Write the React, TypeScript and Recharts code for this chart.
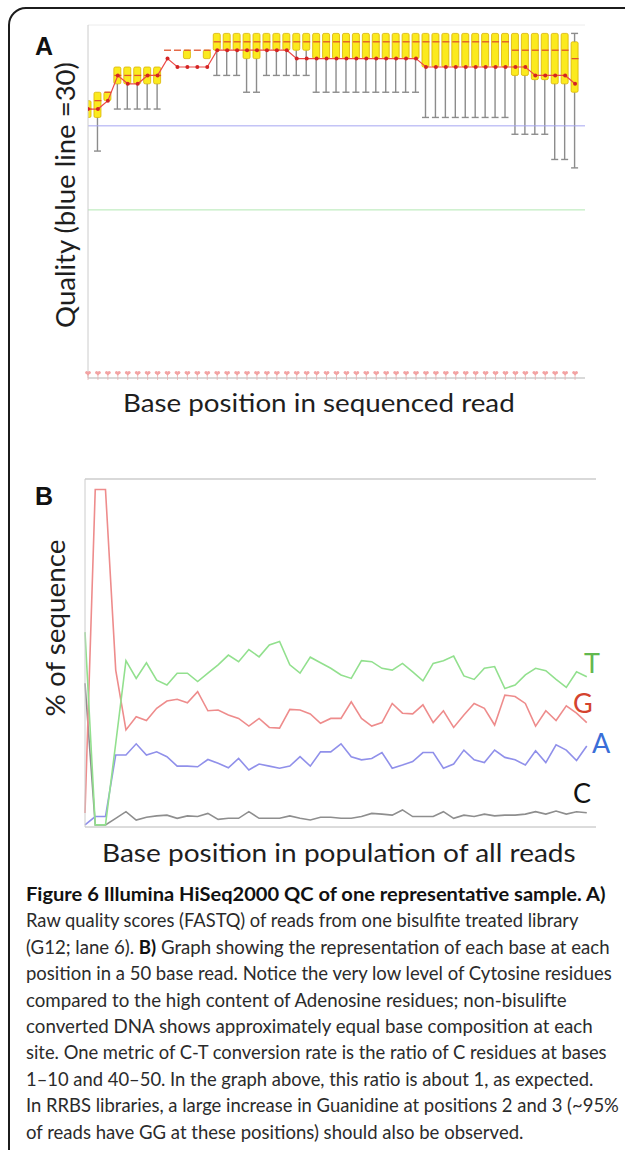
import React, { useLayoutEffect, useRef, useState } from 'react';
import {
  ComposedChart,
  LineChart,
  Line,
  Bar,
  XAxis,
  YAxis,
  CartesianGrid,
  ReferenceLine,
} from 'recharts';

// base positions 1..50 of the read
const positions = [
  1, 2, 3, 4, 5, 6, 7, 8, 9, 10, 11, 12, 13, 14, 15, 16, 17, 18, 19, 20, 21, 22, 23, 24, 25,
  26, 27, 28, 29, 30, 31, 32, 33, 34, 35, 36, 37, 38, 39, 40, 41, 42, 43, 44, 45, 46, 47, 48, 49, 50,
];

// panel A: quality box plot per position
const lowWhisker = [
  31, 27, 33, 32, 32, 32, 32, 32, 39, 39, 38, 39, 38, 36, 36, 36, 34, 34, 36, 36, 36, 36, 36, 34, 34,
  34, 34, 34, 34, 34, 34, 34, 34, 34, 31, 31, 31, 31, 31, 31, 31, 31, 31, 29, 29, 29, 29, 26, 26, 25,
];
const q1 = [
  31, 31, 33, 35, 35, 35, 35, 35, 39, 39, 38, 39, 38, 39, 39, 39, 38, 38, 39, 39, 39, 39, 39, 38, 38,
  38, 38, 38, 38, 38, 38, 38, 38, 38, 37, 37, 37, 37, 37, 37, 37, 37, 37, 36, 36, 35.5, 35.5, 35, 35, 34,
];
const median = [
  32, 33, 34, 36, 36, 36, 36, 36, 39, 39, 39, 39, 39, 40, 40, 40, 40, 40, 40, 40, 40, 40, 40, 40, 40,
  40, 40, 40, 40, 40, 40, 40, 40, 40, 40, 40, 40, 40, 40, 40, 40, 40, 40, 39, 39, 39, 39, 39, 39, 38,
];
const q3 = [
  33, 34, 34, 37, 37, 37, 37, 37, 39, 39, 39, 39, 39, 41, 41, 41, 41, 41, 41, 41, 41, 41, 41, 41, 41,
  41, 41, 41, 41, 41, 41, 41, 41, 41, 41, 41, 41, 41, 41, 41, 41, 41, 41, 41, 41, 41, 41, 41, 41, 40,
];
const highWhisker = [
  33, 34, 34, 37, 37, 37, 37, 37, 39, 39, 39, 39, 39, 41, 41, 41, 41, 41, 41, 41, 41, 41, 41, 41, 41,
  41, 41, 41, 41, 41, 41, 41, 41, 41, 41, 41, 41, 41, 41, 41, 41, 41, 41, 41, 41, 41, 41, 41, 41, 41,
];
const meanQuality = [
  32, 32, 33, 36, 35, 35, 36, 36, 38, 37, 37, 37, 37, 39, 39, 39, 39, 39, 39, 39, 39, 38, 38, 38, 38,
  38, 38, 38, 38, 38, 38, 38, 38, 38, 37, 37, 37, 37, 37, 37, 37, 37, 37, 37, 37, 36, 36, 36, 36, 35,
];
const qualityTicks = [0, 2, 4, 6, 8, 10, 12, 14, 16, 18, 20, 22, 24, 26, 28, 30, 32, 34, 36, 38, 40, 42];

// panel B: % of each base per position
const pctT = [
  56, 0.6, 0.6, 24, 47.8, 42.7, 47.2, 42.2, 40.8, 44.2, 44.2, 41.8, 44.2, 46.6, 49.4, 47.5, 51, 48.9,
  52.3, 53.3, 46.6, 44.2, 48.8, 47.2, 45.6, 43.7, 42.7, 47.8, 47.5, 45.6, 45.1, 47, 44.6, 42, 47, 47.8,
  49.1, 43.4, 42.4, 45.6, 46.1, 39.8, 40.8, 43.7, 45.6, 44.9, 42.4, 40.1, 44.6, 43.2,
];
const pctG = [
  4, 97, 97, 45.1, 27.9, 31.7, 30.6, 34.1, 36.2, 36.7, 35.7, 38.9, 33.4, 33.6, 32.2, 31.2, 29, 31.2,
  28.6, 28.4, 33.8, 33.6, 32.5, 29.8, 31.2, 31.2, 36, 31.2, 29, 30, 35.5, 32.7, 32.5, 35.1, 30, 33.4,
  28.6, 32.2, 35.5, 34.1, 29.3, 37.9, 37.5, 35.5, 29, 33.4, 30.6, 34.8, 32.7, 30,
];
const pctA = [
  0.6, 3, 3, 20.7, 20.7, 23.9, 20.7, 21.6, 20.2, 17.5, 17.5, 17.3, 19.4, 18.3, 17, 19.7, 16.4, 18.1,
  17.5, 16.9, 17.5, 20.2, 17.5, 21.6, 21.6, 23.9, 20.2, 19.3, 19.7, 21.4, 16.9, 17.8, 18.8, 21.4, 21.4,
  16.9, 18.1, 22.1, 19.3, 18.5, 22.1, 20, 19.3, 17.8, 21.9, 18.5, 23.6, 22.1, 19.1, 23.3,
];
const pctC = [
  41.3, 0.6, 0.6, 2.5, 4.4, 2, 2.8, 3.2, 3.4, 2.5, 3.2, 3, 3.9, 2.2, 2.5, 2.5, 4.4, 2.5, 2.5, 2.5, 3.2,
  2.5, 2, 2.8, 2.8, 2.5, 2.5, 3, 3.9, 3.7, 3.4, 4.9, 3, 3, 3, 4.4, 2.5, 3.4, 3, 3.7, 3.2, 3.4, 3.4, 3.7,
  4.4, 3.7, 4.6, 3.7, 4.4, 4.1,
];
const pctTicks = [0, 5, 10, 15, 20, 25, 30, 35, 40, 45, 50, 55, 60, 65, 70, 75, 80, 85, 90, 95, 100];
const oddPositions = [1, 3, 5, 7, 9, 11, 13, 15, 17, 19, 21, 23, 25, 27, 29, 31, 33, 35, 37, 39, 41, 43, 45, 47, 49];

const FONT = "Lato, 'Open Sans', sans-serif";
const BOLD_FONT = "'Liberation Sans', Arial, sans-serif";

const captionLines = [
  { w: 580, parts: [{ t: 'Figure 6 Illumina HiSeq2000 QC of one representative sample. A)', b: true }] },
  { w: 553, parts: [{ t: 'Raw quality scores (FASTQ) of reads from one bisulfite treated library' }] },
  {
    w: 584,
    parts: [
      { t: '(G12; lane 6). ' },
      { t: 'B)', b: true },
      { t: ' Graph showing the representation of each base at each' },
    ],
  },
  { w: 586, parts: [{ t: 'position in a 50 base read. Notice the very low level of Cytosine residues' }] },
  { w: 541, parts: [{ t: 'compared to the high content of Adenosine residues; non-bisulifte' }] },
  { w: 567, parts: [{ t: 'converted DNA shows approximately equal base composition at each' }] },
  { w: 581, parts: [{ t: 'site. One metric of C-T conversion rate is the ratio of C residues at bases' }] },
  { w: 568, parts: [{ t: '1–10 and 40–50. In the graph above, this ratio is about 1, as expected.' }] },
  { w: 593, parts: [{ t: 'In RRBS libraries, a large increase in Guanidine at positions 2 and 3 (~95%' }] },
  { w: 498, parts: [{ t: 'of reads have GG at these positions) should also be observed.' }] },
];

// squeezes a text horizontally so it spans the given width
const FitText = ({ x, y, width, rotate = 0, anchor = 'start', children, ...rest }: any) => {
  const ref = useRef<SVGTextElement>(null);
  const [sx, setSx] = useState(1);
  useLayoutEffect(() => {
    if (ref.current) {
      const natural = ref.current.getComputedTextLength();
      if (natural > 0) setSx(width / natural);
    }
  }, [width]);
  return (
    <g transform={`translate(${x} ${y}) rotate(${rotate}) scale(${sx} 1)`}>
      <text ref={ref} x={0} y={0} textAnchor={anchor} style={{ whiteSpace: 'pre' }} {...rest}>
        {children}
      </text>
    </g>
  );
};

const HeartTick = (props: any) => {
  const { x, y } = props;
  const c = y - 5;
  const col = '#f3a3a3';
  return (
    <g>
      <line x1={x} x2={x} y1={c + 2} y2={y + 2} stroke="#e8b0b0" strokeWidth={0.8} />
      <circle cx={x - 1.3} cy={c - 0.6} r={1.5} fill={col} />
      <circle cx={x + 1.3} cy={c - 0.6} r={1.5} fill={col} />
      <path d={`M${x - 2.8} ${c - 0.2} L${x + 2.8} ${c - 0.2} L${x} ${c + 2.8} Z`} fill={col} />
    </g>
  );
};

const Nothing = () => <g />;

const LowerWhisker = (props: any) => {
  const { x, y, width, height } = props;
  if (!height || height < 0.5) return <g />;
  const cx = x + width / 2;
  return (
    <g stroke="#8c8c8c" strokeWidth={1.4}>
      <line x1={cx} x2={cx} y1={y} y2={y + height} />
      <line x1={x} x2={x + width} y1={y + height} y2={y + height} />
    </g>
  );
};

const UpperWhisker = (props: any) => {
  const { x, y, width, height } = props;
  if (!height || height < 0.5) return <g />;
  const cx = x + width / 2;
  return (
    <g stroke="#8c8c8c" strokeWidth={1.4}>
      <line x1={cx} x2={cx} y1={y} y2={y + height} />
      <line x1={x} x2={x + width} y1={y} y2={y} />
    </g>
  );
};

const BoxShape = (props: any) => {
  const { x, y, width, height } = props;
  if (!height || height < 0.5) return <g />;
  return <rect x={x} y={y} width={width} height={height} rx={1.5} fill="#fbea1e" stroke="#d9b400" strokeWidth={0.8} />;
};

const MedianDot = (props: any) => {
  const { cx, cy, index } = props;
  return <line key={`m-${index}`} x1={cx - 3.5} x2={cx + 3.5} y1={cy} y2={cy} stroke="#e0532b" strokeWidth={1.3} />;
};

const QualityPanel = () => {
  const rows = positions.map((pos, i) => ({
    pos,
    base: lowWhisker[i],
    lowW: q1[i] - lowWhisker[i],
    box: q3[i] - q1[i],
    highW: highWhisker[i] - q3[i],
    median: median[i],
    mean: meanQuality[i],
  }));

  return (
    <ComposedChart width={625} height={420} data={rows} margin={{ top: 25, right: 40, bottom: 38, left: 80 }}>
      <CartesianGrid vertical={false} stroke="#ececec" />
      <XAxis
        dataKey="pos"
        type="number"
        domain={[1, 51]}
        ticks={positions}
        interval={0}
        allowDataOverflow
        height={4}
        tickSize={0}
        tickMargin={0}
        tickLine={false}
        tick={<HeartTick />}
        stroke="#bdbdbd"
      />
      <YAxis type="number" domain={[0, 42]} ticks={qualityTicks} width={8} tickSize={3} tick={false} stroke="#cccccc" />
      <ReferenceLine y={30} stroke="#a6a6f2" strokeWidth={1} />
      <ReferenceLine y={20} stroke="#b2e8b2" strokeWidth={1} />
      <Bar dataKey="base" stackId="q" barSize={7} shape={<Nothing />} isAnimationActive={false} />
      <Bar dataKey="lowW" stackId="q" barSize={7} shape={<LowerWhisker />} isAnimationActive={false} />
      <Bar dataKey="box" stackId="q" barSize={7} shape={<BoxShape />} isAnimationActive={false} />
      <Bar dataKey="highW" stackId="q" barSize={7} shape={<UpperWhisker />} isAnimationActive={false} />
      <Line dataKey="median" stroke="none" dot={<MedianDot />} activeDot={false} isAnimationActive={false} />
      <Line
        dataKey="mean"
        stroke="#ec4a48"
        strokeWidth={1.2}
        dot={{ r: 2, fill: '#d42424', stroke: 'none' }}
        activeDot={false}
        isAnimationActive={false}
      />
    </ComposedChart>
  );
};

const CompositionPanel = () => {
  const rows = positions.map((pos, i) => ({ pos, T: pctT[i], G: pctG[i], A: pctA[i], C: pctC[i] }));
  return (
    <LineChart width={625} height={440} data={rows} margin={{ top: 39, right: 29, bottom: 47, left: 77 }}>
      <CartesianGrid vertical={false} stroke="#ececec" />
      <XAxis
        dataKey="pos"
        type="number"
        domain={[1, 50.9]}
        ticks={oddPositions}
        interval={0}
        height={6}
        tickSize={4}
        tick={false}
        stroke="#c2c2c2"
      />
      <YAxis type="number" domain={[0, 100]} ticks={pctTicks} width={8} tickSize={3} tick={false} stroke="#cccccc" />
      <ReferenceLine y={100} stroke="#cfcfcf" strokeWidth={1.5} />
      <Line dataKey="C" stroke="#8e8e8e" strokeWidth={1.6} dot={false} isAnimationActive={false} />
      <Line dataKey="A" stroke="#9090ea" strokeWidth={1.6} dot={false} isAnimationActive={false} />
      <Line dataKey="G" stroke="#ee8c8c" strokeWidth={1.6} dot={false} isAnimationActive={false} />
      <Line dataKey="T" stroke="#92e08e" strokeWidth={1.6} dot={false} isAnimationActive={false} />
    </LineChart>
  );
};

const App = () => {
  return (
    <div style={{ position: 'absolute', left: 0, top: 0, width: 625, height: 1150, overflow: 'hidden', background: '#fff' }}>
      <div
        style={{
          position: 'absolute',
          left: 8,
          top: 7,
          width: 680,
          height: 1220,
          border: '2px solid #1c1c1c',
          borderRadius: 18,
          boxSizing: 'border-box',
        }}
      />
      <div style={{ position: 'absolute', left: 0, top: 0 }}>
        <QualityPanel />
      </div>
      <div style={{ position: 'absolute', left: 0, top: 440 }}>
        <CompositionPanel />
      </div>
      <svg width={625} height={1150} style={{ position: 'absolute', left: 0, top: 0, pointerEvents: 'none' }}>
        <text x={35} y={55} fontFamily={BOLD_FONT} fontWeight={700} fontSize={25} fill="#111">A</text>
        <FitText x={75} y={195} rotate={-90} width={266} anchor="middle" fontFamily={FONT} fontSize={26} fill="#1e1e1e">
          Quality (blue line =30)
        </FitText>
        <FitText x={123} y={412} width={392} fontFamily={FONT} fontSize={25} fill="#1e1e1e">
          Base position in sequenced read
        </FitText>

        <text x={35} y={505} fontFamily={BOLD_FONT} fontWeight={700} fontSize={25} fill="#111">B</text>
        <FitText x={65} y={628} rotate={-90} width={177} anchor="middle" fontFamily={FONT} fontSize={26} fill="#1e1e1e">
          % of sequence
        </FitText>
        <FitText x={102} y={862} width={474} fontFamily={FONT} fontSize={25} fill="#1e1e1e">
          Base position in population of all reads
        </FitText>

        <text x={584} y={673} fontFamily={FONT} fontSize={27} fill="#62b84e">T</text>
        <text x={573} y={713} fontFamily={FONT} fontSize={27} fill="#d4432e">G</text>
        <text x={592} y={753} fontFamily={FONT} fontSize={27} fill="#3a6ed8">A</text>
        <text x={573} y={803} fontFamily={FONT} fontSize={27} fill="#111">C</text>

        {captionLines.map((line, i) => (
          <FitText key={i} x={26} y={901 + i * 26.4} width={line.w} fontFamily={FONT} fontSize={19.5} fill="#2b2b2b">
            {line.parts.map((p: any, j: number) => (
              <tspan key={j} fontWeight={p.b ? 700 : 400} fill={p.b ? '#111' : '#2b2b2b'}>
                {p.t}
              </tspan>
            ))}
          </FitText>
        ))}
      </svg>
    </div>
  );
};

export default App;
